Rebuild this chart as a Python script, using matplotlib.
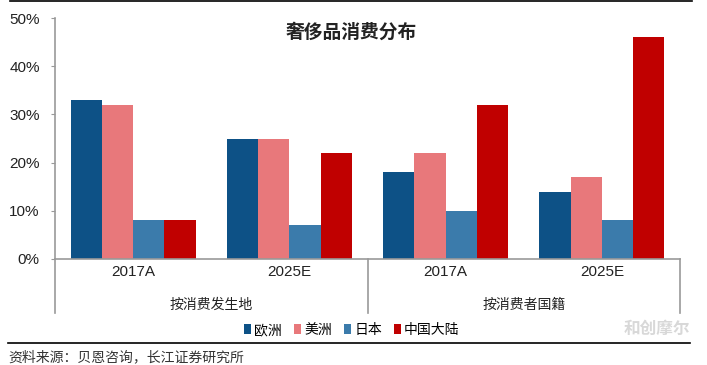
import numpy as np
import matplotlib.pyplot as plt
from matplotlib.patches import Patch
from matplotlib.lines import Line2D

plt.rcParams['font.family'] = ['Noto Sans CJK SC', 'DejaVu Sans']

categories = ['2017A', '2025E', '2017A', '2025E']
groups = ['按消费发生地', '按消费者国籍']
regions = ['欧洲', '美洲', '日本', '中国大陆']
europe = [33, 25, 18, 14]
americas = [32, 25, 22, 17]
japan = [8, 7, 10, 8]
china = [8, 22, 32, 46]
colors = ['#0d5186', '#e8787b', '#3b7bab', '#c00000']

W, H = 707, 365
fig = plt.figure(figsize=(W / 100, H / 100), dpi=100)
ax = fig.add_axes([55 / W, (H - 259) / H, 625 / W, (259 - 18) / H])

x = np.arange(len(categories))
bw = 0.2
series = [europe, americas, japan, china]
for i, (vals, c) in enumerate(zip(series, colors)):
    ax.bar(x + (i - 1.5) * bw, vals, width=bw, color=c, edgecolor='none')

ax.set_xlim(-0.5, 3.5)
ax.set_ylim(0, 50)
ax.set_yticks(range(0, 51, 10))
ax.set_yticklabels([f'{v}%' for v in range(0, 51, 10)], fontsize=11,
                   color='#222222', family='Liberation Sans')
ax.set_xticks([])
for s in ['top', 'right']:
    ax.spines[s].set_visible(False)
for s in ['left', 'bottom']:
    ax.spines[s].set_color('#999999')
    ax.spines[s].set_linewidth(1.2)
ax.tick_params(axis='y', length=3, color='#999999', pad=8)

# category and group labels below the axis
trans = ax.get_xaxis_transform()
for xi, lab in zip(x, categories):
    ax.text(xi, -13 / 241, lab, transform=trans, ha='center', va='center',
            fontsize=11, color='#222222', family='Liberation Sans')
for gi, g in enumerate(groups):
    ax.text(gi * 2 + 0.5, -46 / 241, g, transform=trans, ha='center',
            va='center', fontsize=10, color='#222222')
for xv in [-0.5, 1.5, 3.5]:
    ax.add_line(Line2D([xv, xv], [0, -54 / 241], transform=trans,
                       color='#999999', lw=1.2, clip_on=False))

# title
fig.text(351 / W, 1 - 32 / H, '奢侈品消费分布', ha='center', va='center',
         fontsize=13.5, fontweight='bold', color='#222222')

# legend
handles = [Patch(facecolor=c, edgecolor='none') for c in colors]
fig.legend(handles, regions, loc='center', bbox_to_anchor=(352 / W, 1 - 330 / H),
           ncol=4, frameon=False, fontsize=10, handlelength=0.5, handleheight=0.8,
           handletextpad=0.2, columnspacing=0.9)

# frame lines
fig.add_artist(Line2D([10 / W, 692 / W], [1 - 1 / H, 1 - 1 / H], color='black', lw=1.2))
fig.add_artist(Line2D([8 / W, 690 / W], [1 - 343 / H, 1 - 343 / H], color='black', lw=1.2))

fig.text(8 / W, 1 - 357 / H, '资料来源：贝恩咨询，长江证券研究所', ha='left', va='center',
         fontsize=10, color='#333333')
fig.text(690 / W, 1 - 329 / H, '和创摩尔', ha='right', va='center',
         fontsize=12, fontweight='bold', color='#d8d8d8')

fig.savefig('out.png', dpi=100)
